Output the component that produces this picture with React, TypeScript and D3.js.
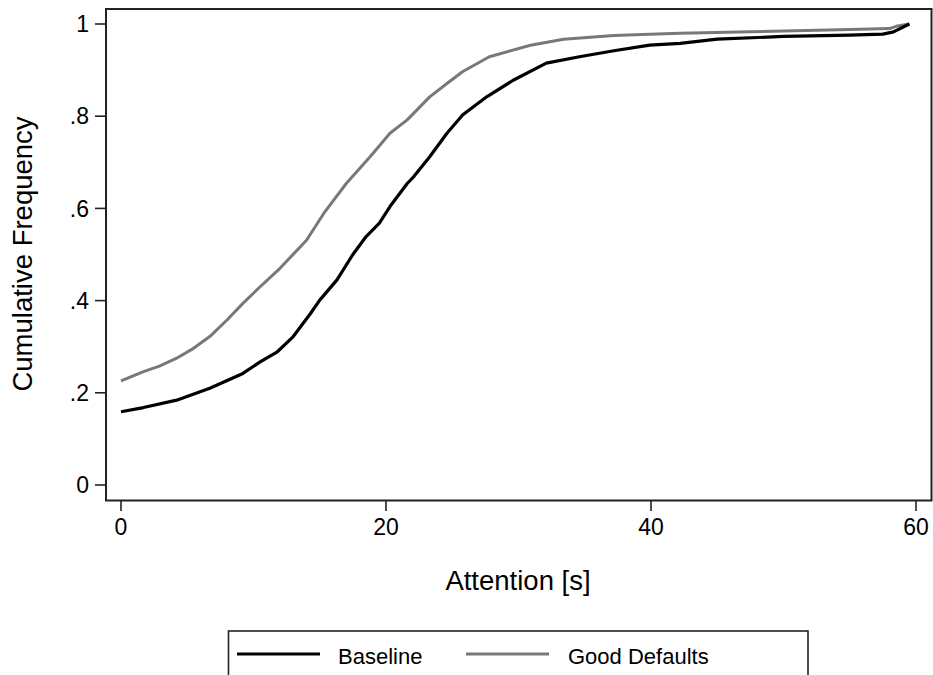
import React from "react";
import * as d3 from "d3";

const baselineT = [0, 1.7, 4.2, 6.7, 9.2, 10.5, 11.8, 13.0, 14.3, 15.0, 16.3, 17.5, 18.5, 19.5, 20.3, 21.6, 22.1, 23.3, 24.6, 25.8, 27.6, 29.6, 32.1, 34.6, 37.2, 39.9, 42.2, 45, 50, 55, 57.5, 58.3, 59.0, 59.5];
const baselineV = [0.159, 0.168, 0.184, 0.21, 0.242, 0.267, 0.289, 0.322, 0.372, 0.401, 0.445, 0.5, 0.539, 0.568, 0.604, 0.654, 0.669, 0.712, 0.763, 0.803, 0.842, 0.878, 0.915, 0.929, 0.942, 0.954, 0.958, 0.967, 0.973, 0.976, 0.978, 0.983, 0.993, 1.0];

const goodT = [0, 1.7, 2.9, 4.2, 5.5, 6.7, 8.0, 9.2, 10.5, 12.0, 14.0, 15.3, 17.0, 18.8, 20.3, 21.6, 23.3, 24.6, 25.8, 27.8, 30.9, 33.4, 37.2, 39.9, 42.2, 47.5, 55.0, 58.0, 58.5, 59.5];
const goodV = [0.226, 0.246, 0.258, 0.275, 0.297, 0.322, 0.358, 0.394, 0.43, 0.47, 0.531, 0.589, 0.654, 0.712, 0.763, 0.792, 0.842, 0.871, 0.897, 0.929, 0.954, 0.967, 0.975, 0.978, 0.98, 0.983, 0.988, 0.99, 0.995, 1.0];

const xTicks = [0, 20, 40, 60];
const yTicks = [0, 0.2, 0.4, 0.6, 0.8, 1];
const yTickLabels = ["0", ".2", ".4", ".6", ".8", "1"];
const seriesNames = ["Baseline", "Good Defaults"];
const xTitle = "Attention [s]";
const yTitle = "Cumulative Frequency";

const FONT = "'Liberation Sans', Arial, Helvetica, sans-serif";

export default function App() {
  const W = 933, H = 675;
  const frame = { l: 106, t: 9, r: 931.5, b: 500.5 };
  const x = d3.scaleLinear().domain([0, 60]).range([121, 916]);
  const y = d3.scaleLinear().domain([0, 1]).range([485, 24]);
  const line = d3.line<[number, number]>().x(d => x(d[0])).y(d => y(d[1]));
  const base: [number, number][] = baselineT.map((t, i) => [t, baselineV[i]]);
  const good: [number, number][] = goodT.map((t, i) => [t, goodV[i]]);
  const colors = ["#000000", "#787878"];

  return (
    <svg width={W} height={H} style={{ position: "absolute", left: 0, top: 0, background: "#fff" }} fontFamily={FONT}>
      <rect x={0} y={0} width={W} height={H} fill="#fff" />
      <rect x={frame.l} y={frame.t} width={frame.r - frame.l} height={frame.b - frame.t} fill="none" stroke="#222" strokeWidth={2} />
      {yTicks.map((v, i) => (
        <g key={"y" + i}>
          <line x1={95} x2={frame.l} y1={y(v)} y2={y(v)} stroke="#222" strokeWidth={1.6} />
          <text x={89} y={y(v)} dy="0.36em" textAnchor="end" fontSize={23} fill="#000">{yTickLabels[i]}</text>
        </g>
      ))}
      {xTicks.map((t, i) => (
        <g key={"x" + i}>
          <line x1={x(t)} x2={x(t)} y1={frame.b} y2={511} stroke="#222" strokeWidth={1.6} />
          <text x={x(t)} y={535} textAnchor="middle" fontSize={23} fill="#000">{t}</text>
        </g>
      ))}
      <text transform={`translate(32,254) rotate(-90)`} textAnchor="middle" fontSize={27.5} fill="#000">{yTitle}</text>
      <text x={518} y={590} textAnchor="middle" fontSize={27.5} fill="#000">{xTitle}</text>
      <path d={line(good) || ""} fill="none" stroke={colors[1]} strokeWidth={3} strokeLinejoin="round" />
      <path d={line(base) || ""} fill="none" stroke={colors[0]} strokeWidth={3.2} strokeLinejoin="round" />
      <rect x={228.5} y={631} width={579.5} height={80} fill="#fff" stroke="#222" strokeWidth={1.6} />
      <line x1={237} x2={320} y1={654} y2={654} stroke={colors[0]} strokeWidth={3.2} />
      <text x={338} y={664} fontSize={22} fill="#000">{seriesNames[0]}</text>
      <line x1={466} x2={549} y1={654} y2={654} stroke={colors[1]} strokeWidth={3} />
      <text x={568} y={664} fontSize={22} fill="#000">{seriesNames[1]}</text>
    </svg>
  );
}
